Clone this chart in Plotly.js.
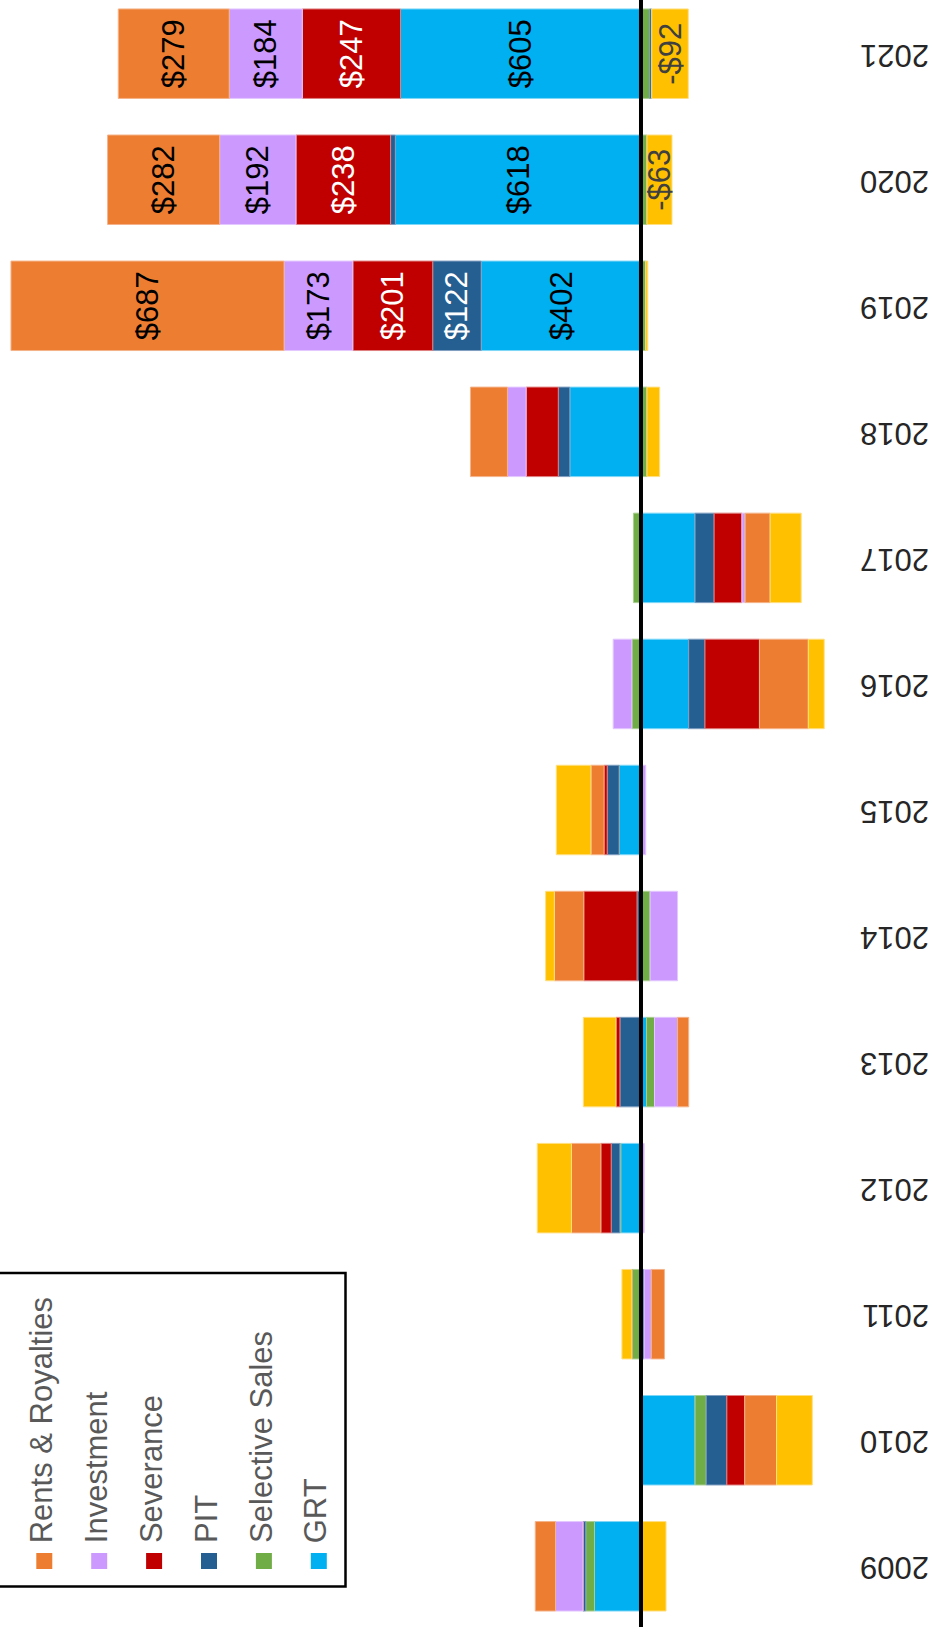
<!DOCTYPE html>
<html><head><meta charset="utf-8">
<script src="https://cdn.plot.ly/plotly-3.0.1.min.js"></script>
<style>html,body{margin:0;padding:0;background:#fff;overflow:hidden;}#chart{width:938px;height:1627px;}</style>
</head><body><div id="chart"></div>
<script>
// ---- data ----
const years = ['2009','2010','2011','2012','2013','2014','2015','2016','2017','2018','2019','2020','2021'];
const grt            = [117, -136,   0,  51, -14,   4,  55, -120, -136, 179, 402, 618, 605];
const selectiveSales = [ 22,  -28,  23,   2, -20, -23,   0,   23,   19, -15, -12, -15, -22];
const pit            = [  7,  -52,  -8,  22,  53,   6,  30,  -41,  -48,  29, 122,  12,  -5];
const severance      = [  0,  -45,   0,  26,  10, 134,   8, -137,  -70,  81, 201, 238, 247];
const investment     = [ 69,    3, -18,  -8, -58, -69, -12,   47,   -8,  47, 173, 192, 184];
const rentsRoyalties = [ 51,  -80, -33,  74, -28,  74,  33, -123,  -63,  93, 687, 282, 279];
const other          = [-63,  -90,  25,  86,  82,  22,  87,  -40,  -78, -32,  -5, -63, -92];

const seriesNames  = ['GRT','Selective Sales','PIT','Severance','Investment','Rents & Royalties','Other'];
const seriesValues = [grt, selectiveSales, pit, severance, investment, rentsRoyalties, other];
const seriesColors = ['#00B0F0','#70AD47','#255E91','#C00000','#CC99FF','#ED7D31','#FFC000'];
const edgeColors   = ['#7fd7f7','#a9cf8f','#7f9ec0','#df7f7f','#e3c8ff','#f5b38a','#ffdf80'];
const labelColors  = ['#000000','#000000','#ffffff','#ffffff','#000000','#000000','#404040'];
const labeledYears = ['2019','2020','2021'];
const legendOrder  = ['Other','Rents & Royalties','Investment','Severance','PIT','Selective Sales','GRT'];

// ---- layout geometry ----
const W = 938, H = 1627, MR = 90, PW = W - MR;
const FONT = 'Liberation Sans, Arial, sans-serif';
const px = x => x / PW;
const py = y => 1 - y / H;

function fmt(v){ return (v < 0 ? '-$' : '$') + Math.abs(v); }

const traces = seriesNames.map((name, i) => ({
  type: 'bar', orientation: 'h', name: name,
  y: years, x: seriesValues[i],
  marker: { color: seriesColors[i], line: { color: edgeColors[i], width: 1 } },
  text: seriesValues[i].map((v, j) => (labeledYears.includes(years[j]) && Math.abs(v) >= 50) ? fmt(v) : ''),
  textposition: 'inside', insidetextanchor: 'middle', textangle: -90,
  constraintext: 'none', cliponaxis: false,
  textfont: { family: FONT, size: 31, color: labelColors[i] },
  hoverinfo: 'skip', showlegend: false
}));

// legend drawn rotated, as in the reference
const shapes = [
  { type: 'line', xref: 'x', yref: 'paper', x0: 0, x1: 0, y0: 0, y1: 1,
    line: { color: '#000', width: 4 }, layer: 'above' },
  { type: 'rect', xref: 'paper', yref: 'paper', x0: px(-6), x1: px(345.5), y0: py(1586.5), y1: py(1273),
    line: { color: '#000', width: 2.5 }, fillcolor: '#ffffff', layer: 'above' }
];
const annotations = [];
legendOrder.forEach((name, k) => {
  const i = seriesNames.indexOf(name);
  const cx = 44.3 + (k - 1) * 54.9;
  shapes.push({ type: 'rect', xref: 'paper', yref: 'paper',
    x0: px(cx - 8), x1: px(cx + 8), y0: py(1569), y1: py(1553),
    fillcolor: seriesColors[i], line: { width: 0 }, layer: 'above' });
  annotations.push({ xref: 'paper', yref: 'paper', x: px(cx - 3), y: py(1545),
    xanchor: 'center', yanchor: 'bottom', text: name, showarrow: false, textangle: -90,
    font: { family: FONT, size: 31, color: '#595959' } });
});

const layout = {
  width: W, height: H,
  margin: { l: 0, r: MR, t: 0, b: 0, pad: 0 },
  barmode: 'relative', bargap: 0.29,
  paper_bgcolor: '#ffffff', plot_bgcolor: '#ffffff',
  showlegend: false,
  xaxis: { range: [1612.6, -520.8], showgrid: false, zeroline: false, showticklabels: false,
           ticks: '', showline: false, fixedrange: true },
  yaxis: { type: 'category', side: 'right', range: [-0.4816, 12.426], tickangle: 180,
           ticklabelstandoff: 80, ticklabelshift: 11,
           tickfont: { family: FONT, size: 31, color: '#262626' },
           showgrid: false, zeroline: false, ticks: '', showline: false, fixedrange: true },
  shapes: shapes, annotations: annotations,
  font: { family: FONT }
};

Plotly.newPlot('chart', traces, layout, { displayModeBar: false, staticPlot: true });
</script>
</body></html>
